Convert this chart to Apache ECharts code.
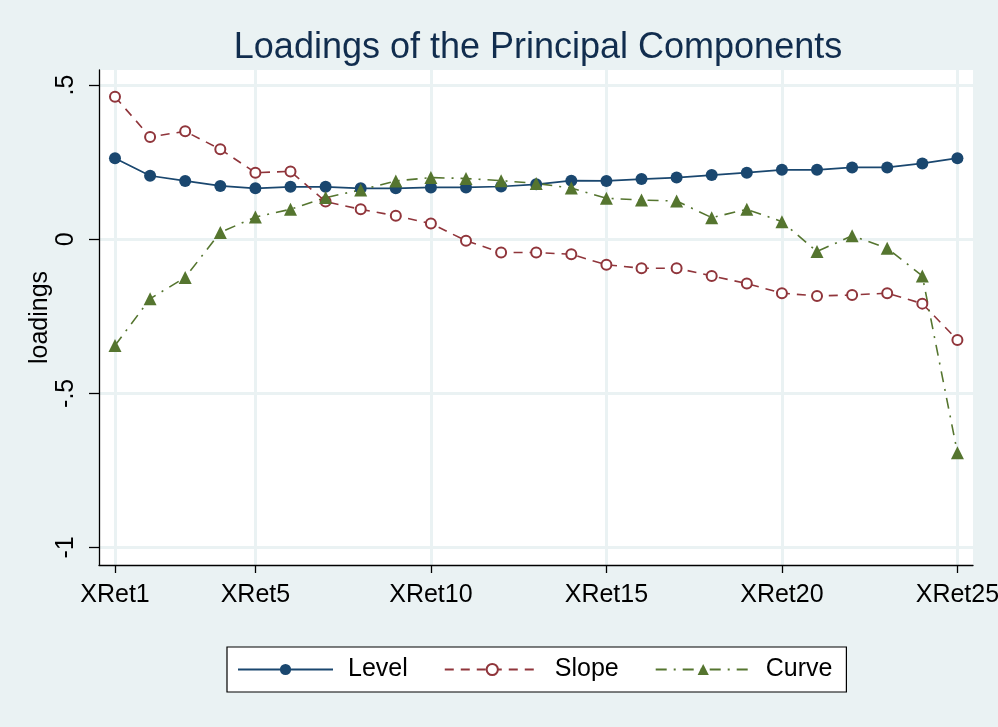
<!DOCTYPE html>
<html>
<head>
<meta charset="utf-8">
<script src="https://cdn.jsdelivr.net/npm/echarts@6/dist/echarts.min.js"></script>
<style>
html,body{margin:0;padding:0;background:#EAF2F3;}
#chart{width:998px;height:727px;}
</style>
</head>
<body>
<div id="chart"></div>
<script>
// ---- data ----
const positions = [1,2,3,4,5,6,7,8,9,10,11,12,13,14,15,16,17,18,19,20,21,22,23,24,25];
const level = [0.263,0.206,0.189,0.173,0.165,0.170,0.170,0.165,0.165,0.168,0.168,0.171,0.178,0.190,0.189,0.195,0.200,0.208,0.216,0.225,0.225,0.233,0.233,0.246,0.263];
const slope = [0.462,0.332,0.350,0.292,0.216,0.220,0.122,0.097,0.076,0.051,-0.005,-0.043,-0.043,-0.049,-0.083,-0.094,-0.094,-0.119,-0.144,-0.175,-0.184,-0.181,-0.175,-0.209,-0.327];
const curve = [-0.345,-0.193,-0.124,0.022,0.072,0.097,0.135,0.160,0.189,0.200,0.197,0.190,0.181,0.166,0.133,0.127,0.124,0.070,0.097,0.057,-0.040,0.011,-0.029,-0.119,-0.693];
const xTicks = [1,5,10,15,20,25];
const xTickPrefix = 'XRet';
const yTicks = [-1,-0.5,0,0.5];
const yTickLabels = ['-1','-.5','0','.5'];
const seriesNames = ['Level','Slope','Curve'];
const titleText = 'Loadings of the Principal Components';
const yTitle = 'loadings';

const pair = arr => positions.map((p,i)=>[p,arr[i]]);
const FONT = '"Liberation Sans", Arial, sans-serif';
const BG = '#EAF2F3';

const chart = echarts.init(document.getElementById('chart'), null, {renderer:'canvas'});
chart.setOption({
  backgroundColor: BG,
  animation: false,
  title: {
    text: titleText, left: 533, top: 25, textAlign: 'center',
    textStyle: {fontFamily: FONT, fontSize: 36, fontWeight: 'normal', color: '#112D4E'}
  },
  grid: {left: 99, right: 25, top: 70, bottom: 162, show: true, backgroundColor: '#ffffff', borderWidth: 0,
         containLabel: false, outerBoundsMode: 'none'},
  xAxis: {
    type: 'value', min: 0.5443, max: 25.444,
    axisLine: {show: true, onZero: false, lineStyle: {color: '#000', width: 1.3}},
    axisTick: {show: true, length: 8, customValues: xTicks, lineStyle: {color: '#000', width: 1.3}},
    axisLabel: {customValues: xTicks, formatter: v => xTickPrefix + v, fontFamily: FONT, fontSize: 25, color: '#000', margin: 18},
    splitLine: {show: true, lineStyle: {color: BG, width: 3}}
  },
  yAxis: {
    type: 'value', min: -1.057, max: 0.549,
    name: yTitle, nameLocation: 'middle', nameGap: 46, nameRotate: 90, nameMoveOverlap: false,
    nameTextStyle: {fontFamily: FONT, fontSize: 25, color: '#000'},
    axisLine: {show: true, onZero: false, lineStyle: {color: '#000', width: 1.3}},
    axisTick: {show: true, length: 10, customValues: yTicks, lineStyle: {color: '#000', width: 1.3}},
    axisLabel: {customValues: yTicks, rotate: 90, margin: 20, fontFamily: FONT, fontSize: 25, color: '#000',
      formatter: v => { const i = yTicks.findIndex(t => Math.abs(t - v) < 1e-9); return i >= 0 ? yTickLabels[i] : ''; }},
    splitLine: {show: true, lineStyle: {color: BG, width: 3}}
  },
  legend: {
    left: 227, top: 647, orient: 'horizontal',
    padding: [10, 14, 10, 10],
    itemWidth: 95, itemHeight: 14, itemGap: 36,
    backgroundColor: '#ffffff', borderColor: '#000', borderWidth: 1.2,
    textStyle: {fontFamily: FONT, fontSize: 25, color: '#000', padding: [0,0,0,10]},
    data: seriesNames
  },
  series: [
    {name: seriesNames[0], type: 'line', data: pair(level), symbol: 'circle', symbolSize: 12,
     itemStyle: {color: '#1A476F'}, lineStyle: {color: '#1A476F', width: 1.7, type: 'solid'}},
    {name: seriesNames[1], type: 'line', data: pair(slope), symbol: 'emptyCircle', symbolSize: 10,
     itemStyle: {color: '#90353B', borderColor: '#90353B', borderWidth: 2.2}, lineStyle: {color: '#90353B', width: 1.6, type: [9, 7]}},
    {name: seriesNames[2], type: 'line', data: pair(curve), symbol: 'triangle', symbolSize: 13,
     itemStyle: {color: '#55752F'}, lineStyle: {color: '#55752F', width: 1.6, type: [11, 7, 2, 7]}}
  ]
});
</script>
</body>
</html>
